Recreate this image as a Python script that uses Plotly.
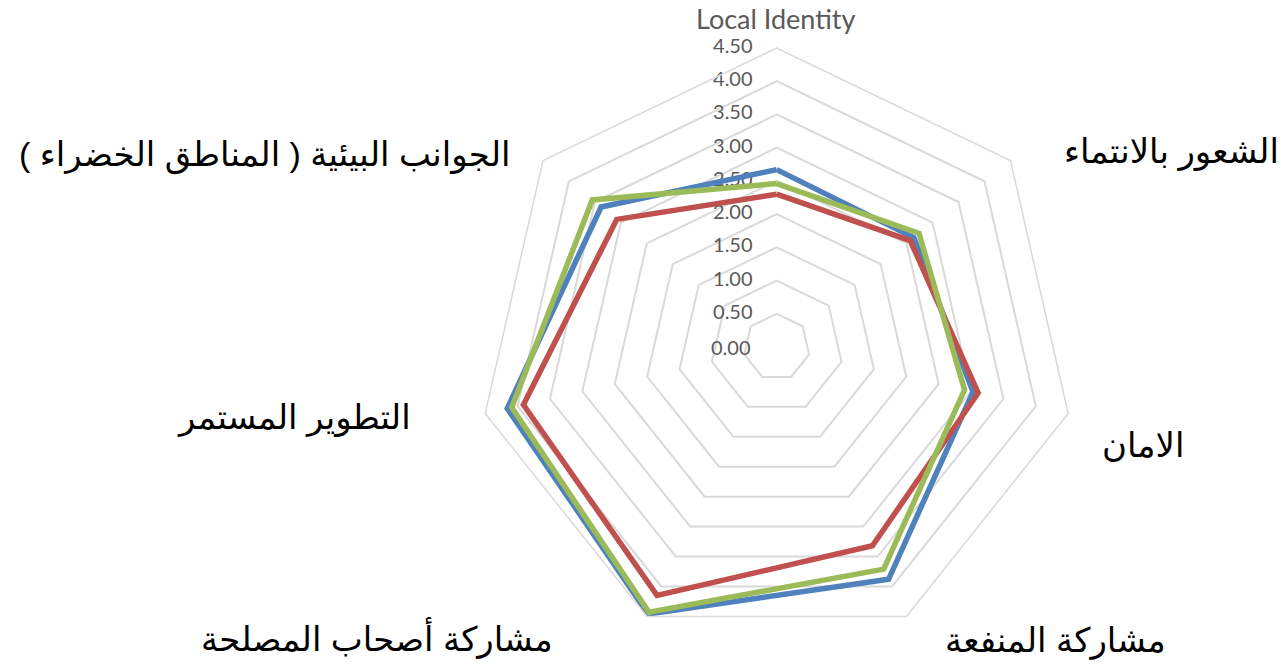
import plotly.graph_objects as go

categories = ["Local Identity", "الشعور بالانتماء", "الامان", "مشاركة المنفعة",
              "مشاركة أصحاب المصلحة", "التطوير المستمر", "الجوانب البيئية ( المناطق الخضراء )"]
series_names = ["Series 1", "Series 2", "Series 3"]
blue_vals = [2.67, 2.64, 3.03, 3.88, 4.46, 4.16, 3.38]
red_vals = [2.30, 2.57, 3.11, 3.32, 4.15, 3.91, 3.08]
green_vals = [2.46, 2.74, 2.90, 3.71, 4.43, 4.09, 3.55]
tick_vals = [0, 0.5, 1, 1.5, 2, 2.5, 3, 3.5, 4, 4.5]
tick_text = ["0.00", "0.50", "1.00", "1.50", "2.00", "2.50", "3.00", "3.50", "4.00", "4.50"]

colors = ["#4F81BD", "#C0504D", "#9BBB59"]
W, H = 1281, 668
cx, cy, R = 776.7, 347.0, 299.0

fig = go.Figure()
# radial tick labels (non-zero ones) placed on the radial scale along the first category spoke
tick_font = dict(family="Lato, Open Sans, sans-serif", size=20, color="#595959")
sel = [(v, t) for v, t in zip(tick_vals, tick_text) if v > tick_vals[0]]
fig.add_trace(go.Scatterpolar(
    r=[v for v, _ in sel], theta=[categories[0]] * len(sel), text=[t for _, t in sel],
    mode="markers+text", textposition="middle left", cliponaxis=False,
    marker=dict(size=37, color="rgba(0,0,0,0)"),
    textfont=tick_font, hoverinfo="skip", showlegend=False))

for name, vals, col in zip(series_names, [blue_vals, red_vals, green_vals], colors):
    fig.add_trace(go.Scatterpolar(
        r=vals + vals[:1], theta=categories + categories[:1],
        mode="lines", name=name,
        line=dict(color=col, width=5.5, shape="linear"),
        hoverinfo="skip"))

fig.update_layout(
    width=W, height=H,
    margin=dict(l=0, r=0, t=0, b=0),
    paper_bgcolor="white", plot_bgcolor="white",
    showlegend=False,
    polar=dict(
        domain=dict(x=[(cx - R) / W, (cx + R) / W], y=[1 - (cy + R) / H, 1 - (cy - R) / H]),
        bgcolor="white",
        gridshape="linear",
        angularaxis=dict(
            type="category", categoryarray=categories, rotation=90, direction="clockwise",
            showgrid=False, showticklabels=False, ticks="",
            showline=True, linecolor="#D9D9D9", linewidth=1.5),
        radialaxis=dict(
            range=[0, 4.5], tickvals=tick_vals, showticklabels=False,
            angle=90, showline=False, ticks="",
            gridcolor="#D9D9D9", gridwidth=1.5),
    ),
)

# the label for the zero tick sits at the polar centre (left of it)
fig.add_annotation(x=(cx - 24) / W, y=1 - cy / H, xref="paper", yref="paper",
                   text=tick_text[0], showarrow=False, xanchor="right", yanchor="middle",
                   font=tick_font)

label_font = dict(family="Arial, Liberation Sans, DejaVu Sans, sans-serif", size=34, color="black")
label_pos = [
    (776, 0, "center", "#595959"),
    (1062, 152, "left", None),
    (1100, 445, "left", None),
    (943, 640, "left", None),
    (555, 638, "right", None),
    (413, 418, "right", None),
    (513, 155, "right", None),
]
for cat, (x, y, anchor, col) in zip(categories, label_pos):
    f = dict(label_font)
    yanchor = "middle"
    if col:
        f = dict(family="Lato, Open Sans, sans-serif", size=27, color=col)
        yanchor = "top"
    fig.add_annotation(x=x / W, y=1 - y / H, xref="paper", yref="paper", text=cat,
                       showarrow=False, xanchor=anchor, yanchor=yanchor, font=f)

fig.write_html("out.html", config={"displayModeBar": False},
               post_script="document.body.style.margin='0';document.body.style.overflow='hidden';")
